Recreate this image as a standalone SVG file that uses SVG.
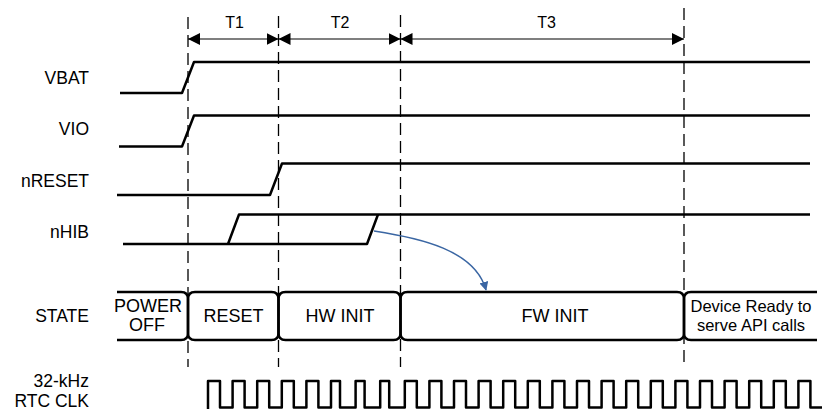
<svg xmlns="http://www.w3.org/2000/svg" width="827" height="409" viewBox="0 0 827 409">
<style>
text{font-family:"Liberation Sans",Arial,sans-serif;fill:#000}
.lbl{font-size:17.5px;text-anchor:end}
.st{font-size:18px;text-anchor:middle}
.dv{font-size:16.5px;text-anchor:middle}
.tl{font-size:16px;text-anchor:middle}
.wave{fill:none;stroke:#000;stroke-width:2.5;stroke-linejoin:round}
.dash{fill:none;stroke:#000;stroke-width:1.3;stroke-dasharray:12 6}
.dim{fill:none;stroke:#000;stroke-width:1.2}
</style>
<defs>
<marker id="ah" viewBox="0 0 12 12" refX="12" refY="6" markerWidth="12" markerHeight="12" markerUnits="userSpaceOnUse" orient="auto-start-reverse">
<path d="M0,0 L12,6 L0,12 Z" fill="#000"/>
</marker>
<marker id="bh" viewBox="0 0 10 10" refX="9" refY="5" markerWidth="9" markerHeight="9" markerUnits="userSpaceOnUse" orient="auto">
<path d="M0,0 L10,5 L0,10 Z" fill="#3a66a3"/>
</marker>
</defs>

<g id="labels">
<text class="lbl" x="89" y="84">VBAT</text>
<text class="lbl" x="89" y="135">VIO</text>
<text class="lbl" x="89" y="186.5">nRESET</text>
<text class="lbl" x="89" y="238">nHIB</text>
<text class="lbl" x="89" y="321.5">STATE</text>
<text class="lbl" x="89" y="386.5">32-kHz</text>
<text class="lbl" x="89" y="406.5">RTC CLK</text>
</g>

<g id="guides">
<line class="dash" x1="188" y1="17" x2="188" y2="367"/>
<line class="dash" x1="278.5" y1="16" x2="278.5" y2="367"/>
<line class="dash" x1="400.5" y1="15" x2="400.5" y2="367"/>
<line class="dash" x1="684" y1="8" x2="684" y2="362"/>
</g>

<g id="intervals">
<line class="dim" x1="188" y1="39" x2="278.5" y2="39" marker-start="url(#ah)" marker-end="url(#ah)"/>
<line class="dim" x1="278.5" y1="39" x2="400.5" y2="39" marker-start="url(#ah)" marker-end="url(#ah)"/>
<line class="dim" x1="400.5" y1="39" x2="684" y2="39" marker-start="url(#ah)" marker-end="url(#ah)"/>
<text class="tl" x="234.5" y="28">T1</text>
<text class="tl" x="340" y="28">T2</text>
<text class="tl" x="546.5" y="28">T3</text>
</g>

<g id="vbat"><path class="wave" d="M120,93 H182 L194,62 H810"/></g>
<g id="vio"><path class="wave" d="M119,146.5 H182 L194,115.5 H810"/></g>
<g id="nreset"><path class="wave" d="M117,195 H270 L282,163.5 H810"/></g>
<g id="nhib">
<path class="wave" d="M123,244 H367 L378,214.5"/>
<path class="wave" d="M228,244 L239,214.5 H810"/>
</g>

<g id="state">
<path class="wave" d="M117,292 H181 Q188,292 188,299 V333 Q188,340 181,340 H117"/>
<path class="wave" d="M195,292 H271.5 Q278.5,292 278.5,299 V333 Q278.5,340 271.5,340 H195 Q188,340 188,333 V299 Q188,292 195,292 Z"/>
<path class="wave" d="M285.5,292 H393.5 Q400.5,292 400.5,299 V333 Q400.5,340 393.5,340 H285.5 Q278.5,340 278.5,333 V299 Q278.5,292 285.5,292 Z"/>
<path class="wave" d="M407.5,292 H677 Q684,292 684,299 V333 Q684,340 677,340 H407.5 Q400.5,340 400.5,333 V299 Q400.5,292 407.5,292 Z"/>
<path class="wave" d="M817,292 H691 Q684,292 684,299 V333 Q684,340 691,340 H817"/>
<text class="st" x="148" y="311.5">POWER</text>
<text class="st" x="147" y="331">OFF</text>
<text class="st" x="233.5" y="321.5">RESET</text>
<text class="st" x="340" y="321.5">HW INIT</text>
<text class="st" x="555" y="321.5">FW INIT</text>
<text class="dv" x="751" y="312">Device Ready to</text>
<text class="dv" x="751" y="330.5">serve API calls</text>
</g>

<g id="clock">
<path class="wave" d="M208,409 V381 H220 V407.5 H232.6 V381 H244.6 V407.5 H257.2 V381 H269.2 V407.5 H281.8 V381 H293.8 V407.5 H306.4 V381 H318.4 V407.5 H331 V381 H340 V407.5 H355.6 V381 H364.6 V407.5 H380.2 V381 H389.2 V407.5 H404.8 V381 H416.8 V407.5 H429.4 V381 H441.4 V407.5 H454 V381 H466 V407.5 H478.6 V381 H490.6 V407.5 H503.2 V381 H515.2 V407.5 H527.8 V381 H539.8 V407.5 H552.4 V381 H564.4 V407.5 H577 V381 H589 V407.5 H601.6 V381 H613.6 V407.5 H626.2 V381 H638.2 V407.5 H650.8 V381 H662.8 V407.5 H675.4 V381 H687.4 V407.5 H700 V381 H712 V407.5 H724.6 V381 H736.6 V407.5 H749.2 V381 H761.2 V407.5 H773.8 V381 H785.8 V407.5 H798.4 V381 H810.4 V407.5 H822"/>
</g>

<g id="connectors">
<path d="M374,231 C420,238 475,250 486,290" fill="none" stroke="#3a66a3" stroke-width="1.5" marker-end="url(#bh)"/>
</g>
</svg>
